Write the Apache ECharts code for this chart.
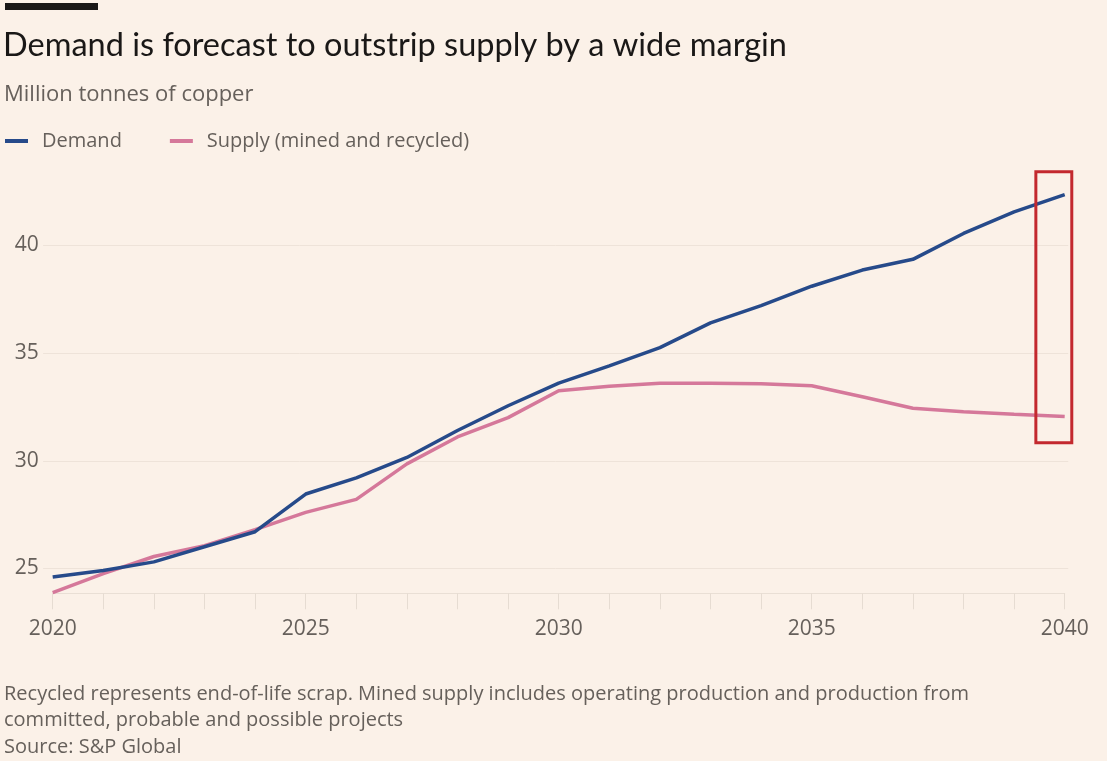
<!DOCTYPE html>
<html>
<head>
<meta charset="utf-8">
<script src="https://cdn.jsdelivr.net/npm/echarts@6/dist/echarts.min.js"></script>
<style>
  html, body { margin: 0; padding: 0; background: #fbf1e8; }
  #chart { width: 1107px; height: 761px; }
</style>
</head>
<body>
<div id="chart"></div>
<script>
// 数据
const years = [2020, 2021, 2022, 2023, 2024, 2025, 2026, 2027, 2028, 2029, 2030,
               2031, 2032, 2033, 2034, 2035, 2036, 2037, 2038, 2039, 2040];
const demand = [24.6, 24.9, 25.3, 26.0, 26.7, 28.45, 29.2, 30.15, 31.4, 32.55, 33.6,
                34.4, 35.25, 36.4, 37.2, 38.1, 38.85, 39.35, 40.55, 41.55, 42.35];
const supply = [23.87, 24.75, 25.55, 26.05, 26.8, 27.6, 28.2, 29.85, 31.1, 32.0, 33.25,
                33.45, 33.6, 33.6, 33.57, 33.48, 32.97, 32.43, 32.27, 32.15, 32.05];
const yTicks = [25, 30, 35, 40];
const xLabels = [2020, 2025, 2030, 2035, 2040];
// 红框（数据坐标）
const boxYears = [2039.43, 2040.14];
const boxValues = [30.83, 43.42];
// 网格线左右端（数据坐标）
const gridLineYears = [2019.81, 2040.07];

const gridColor = '#eee3d9';
const textGrey = '#66605b';
const titleFont = 'Lato, "Noto Sans", sans-serif';
const bodyFont = '"Open Sans", "Noto Sans", sans-serif';

const chartDom = document.getElementById('chart');
const chartInstance = echarts.init(chartDom);

const option = {
  backgroundColor: '#fbf1e8',
  animation: false,
  textStyle: { fontFamily: bodyFont },
  graphic: [
    { id: 'bar', type: 'rect', left: 5, top: 3, shape: { width: 93, height: 7 }, style: { fill: '#1a1817' } }
  ],
  title: [
    {
      text: 'Demand is forecast to outstrip supply by a wide margin',
      left: -2, top: 24,
      textStyle: { fontSize: 32.5, fontWeight: 'normal', color: '#1a1817', fontFamily: titleFont }
    },
    {
      text: 'Million tonnes of copper',
      left: -1, top: 79,
      textStyle: { fontSize: 22, fontWeight: 'normal', color: textGrey, fontFamily: bodyFont }
    },
    {
      text: 'Recycled represents end-of-life scrap. Mined supply includes operating production and production from\ncommitted, probable and possible projects\nSource: S&P Global',
      left: -1, top: 676,
      textStyle: { fontSize: 20, fontWeight: 'normal', color: textGrey, lineHeight: 26.5, fontFamily: bodyFont }
    }
  ],
  legend: {
    left: 0, top: 126,
    icon: 'rect',
    itemWidth: 23, itemHeight: 4,
    itemGap: 48,
    textStyle: { fontSize: 20, color: textGrey, padding: [0, 0, 0, 9], fontFamily: bodyFont },
    data: ['Demand', 'Supply (mined and recycled)']
  },
  grid: { left: 52.7, right: 42.3, top: 167.8, bottom: 167.7 },
  xAxis: {
    type: 'value',
    min: 2020, max: 2040, interval: 1,
    axisLine: { lineStyle: { color: '#e9dfd5', width: 1 } },
    axisTick: { show: true, length: 16, lineStyle: { color: '#e6dcd2' } },
    splitLine: { show: false },
    axisLabel: {
      margin: 25, fontSize: 21, color: textGrey, fontFamily: bodyFont,
      formatter: v => xLabels.includes(v) ? String(v) : ''
    }
  },
  yAxis: {
    type: 'value',
    min: 23.84, max: 43.6, splitNumber: 4,
    axisLine: { show: false },
    axisTick: { show: false },
    splitLine: { show: false },
    axisLabel: {
      align: 'left', margin: 38, fontSize: 21, color: textGrey, fontFamily: bodyFont,
      padding: [4, 0, 0, 0],
      formatter: v => yTicks.includes(Math.round(v * 100) / 100) ? String(v) : ''
    }
  },
  series: [
    {
      name: 'Supply (mined and recycled)',
      type: 'line',
      data: years.map((y, i) => [y, supply[i]]),
      showSymbol: false,
      z: 3,
      lineStyle: { color: '#d5789a', width: 3.5 },
      itemStyle: { color: '#d5789a' }
    },
    {
      name: 'Demand',
      type: 'line',
      data: years.map((y, i) => [y, demand[i]]),
      showSymbol: false,
      z: 4,
      lineStyle: { color: '#264a8a', width: 3.5 },
      itemStyle: { color: '#264a8a' }
    }
  ]
};

chartInstance.setOption(option);

// 网格线和红框：用坐标轴换算成像素
const toPx = (x, y) => chartInstance.convertToPixel({ gridIndex: 0 }, [x, y]);
const extra = yTicks.map((t, i) => {
  const a = toPx(gridLineYears[0], t);
  const b = toPx(gridLineYears[1], t);
  return {
    id: 'gl' + i, type: 'line', z: 0, silent: true,
    shape: { x1: a[0], y1: Math.round(a[1]) + 0.5, x2: b[0], y2: Math.round(b[1]) + 0.5 },
    style: { stroke: gridColor, lineWidth: 1 }
  };
});
const p1 = toPx(boxYears[0], boxValues[1]);
const p2 = toPx(boxYears[1], boxValues[0]);
extra.push({
  id: 'box', type: 'rect', z: 100, silent: true,
  shape: { x: p1[0], y: p1[1], width: p2[0] - p1[0], height: p2[1] - p1[1] },
  style: { fill: 'none', stroke: '#c3292e', lineWidth: 3 }
});
chartInstance.setOption({ graphic: extra });
</script>
</body>
</html>
